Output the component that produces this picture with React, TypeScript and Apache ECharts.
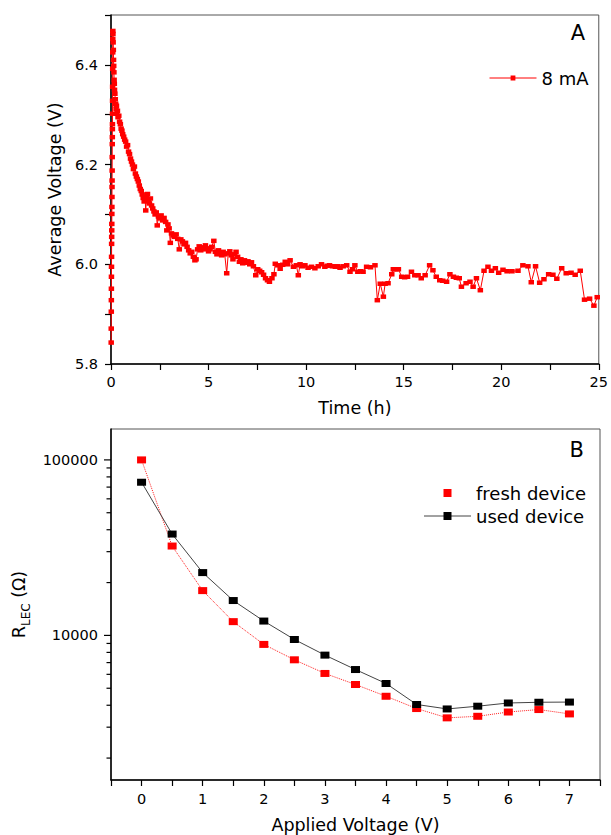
import React, { useEffect, useRef } from "react";
import * as echarts from "echarts";

// ---------- Panel A: average voltage vs time (8 mA) ----------
const voltageTrace: [number, number][] = [
  [0.010, 5.843], [0.012, 5.871], [0.015, 5.905], [0.018, 5.928], [0.020, 5.951], [0.023, 5.975],
  [0.026, 5.995], [0.029, 6.015], [0.032, 6.041], [0.035, 6.055], [0.038, 6.068], [0.041, 6.081],
  [0.044, 6.101], [0.047, 6.115], [0.050, 6.135], [0.053, 6.155], [0.056, 6.168], [0.059, 6.188],
  [0.062, 6.215], [0.065, 6.241], [0.068, 6.255], [0.071, 6.271], [0.074, 6.281], [0.077, 6.302],
  [0.080, 6.328], [0.083, 6.356], [0.086, 6.392], [0.089, 6.425], [0.092, 6.452], [0.095, 6.468],
  [0.10, 6.462], [0.11, 6.445], [0.12, 6.43], [0.13, 6.41], [0.14, 6.398], [0.15, 6.385],
  [0.16, 6.37], [0.17, 6.362], [0.18, 6.35], [0.20, 6.342], [0.22, 6.331], [0.24, 6.322],
  [0.26, 6.312], [0.28, 6.318], [0.30, 6.302], [0.33, 6.308], [0.36, 6.295], [0.40, 6.298],
  [0.44, 6.286], [0.48, 6.281], [0.52, 6.272], [0.56, 6.268], [0.60, 6.261], [0.65, 6.256],
  [0.70, 6.25], [0.75, 6.246], [0.80, 6.236], [0.85, 6.239], [0.90, 6.226], [0.95, 6.221],
  [1.00, 6.212], [1.05, 6.206], [1.10, 6.2], [1.15, 6.191], [1.20, 6.196], [1.25, 6.182],
  [1.30, 6.176], [1.35, 6.171], [1.40, 6.166], [1.45, 6.158], [1.50, 6.151], [1.55, 6.147],
  [1.60, 6.14], [1.65, 6.133], [1.70, 6.126], [1.75, 6.131], [1.78, 6.108], [1.82, 6.135],
  [1.87, 6.141], [1.92, 6.128], [1.97, 6.122], [2.02, 6.132], [2.08, 6.118], [2.14, 6.112],
  [2.20, 6.106], [2.26, 6.1], [2.32, 6.104], [2.37, 6.078], [2.43, 6.096], [2.50, 6.092],
  [2.57, 6.098], [2.64, 6.088], [2.72, 6.093], [2.80, 6.085], [2.86, 6.068], [2.92, 6.08],
  [2.98, 6.072], [3.04, 6.043], [3.10, 6.062], [3.18, 6.058], [3.26, 6.055], [3.34, 6.06],
  [3.42, 6.051], [3.50, 6.03], [3.58, 6.05], [3.66, 6.046], [3.74, 6.04], [3.82, 6.043],
  [3.90, 6.035], [3.98, 6.028], [4.06, 6.022], [4.14, 6.025], [4.22, 6.015], [4.30, 6.008],
  [4.36, 6.01], [4.44, 6.03], [4.52, 6.036], [4.60, 6.028], [4.68, 6.034], [4.76, 6.03],
  [4.84, 6.038], [4.92, 6.032], [5.00, 6.026], [5.08, 6.03], [5.16, 6.035], [5.27, 6.047],
  [5.35, 6.025], [5.43, 6.02], [5.51, 6.028], [5.59, 6.022], [5.67, 6.018], [5.75, 6.025],
  [5.83, 6.02], [5.93, 5.982], [6.01, 6.022], [6.09, 6.026], [6.17, 6.018], [6.25, 6.01],
  [6.33, 6.02], [6.41, 6.025], [6.49, 6.015], [6.58, 6.005], [6.66, 6.01], [6.75, 6.002],
  [6.84, 6.008], [6.93, 6.003], [7.02, 6.006], [7.11, 6.0], [7.20, 6.004], [7.30, 5.996],
  [7.42, 5.978], [7.52, 5.99], [7.62, 5.987], [7.72, 5.984], [7.82, 5.979], [7.92, 5.972],
  [8.02, 5.968], [8.12, 5.965], [8.25, 5.972], [8.35, 5.98], [8.42, 6.001], [8.55, 5.998],
  [8.67, 5.991], [8.80, 5.999], [8.93, 6.005], [9.05, 6.0], [9.18, 6.008], [9.35, 5.995],
  [9.50, 5.998], [9.60, 5.978], [9.69, 6.0], [9.82, 5.996], [9.94, 5.998], [10.1, 5.993],
  [10.28, 5.995], [10.45, 5.992], [10.62, 5.996], [10.79, 6.0], [10.96, 5.995], [11.08, 5.997],
  [11.2, 5.998], [11.35, 5.996], [11.5, 5.995], [11.62, 5.996], [11.74, 5.993], [11.9, 5.996],
  [12.08, 5.998], [12.25, 5.985], [12.38, 5.99], [12.5, 5.998], [12.65, 5.985], [12.8, 5.986],
  [12.92, 5.985], [13.1, 5.995], [13.3, 5.994], [13.53, 5.998], [13.65, 5.928], [13.8, 5.961],
  [13.96, 5.935], [14.05, 5.961], [14.2, 5.962], [14.39, 5.98], [14.47, 5.99], [14.6, 5.99],
  [14.73, 5.99], [14.9, 5.975], [15.05, 5.974], [15.2, 5.975], [15.4, 5.985], [15.57, 5.978],
  [15.74, 5.978], [15.9, 5.972], [16.1, 5.978], [16.33, 5.998], [16.5, 5.988], [16.67, 5.975],
  [16.85, 5.968], [17.0, 5.967], [17.2, 5.965], [17.37, 5.98], [17.55, 5.975], [17.7, 5.973],
  [17.85, 5.972], [17.96, 5.955], [18.2, 5.962], [18.4, 5.965], [18.56, 5.955], [18.73, 5.972],
  [18.93, 5.948], [19.12, 5.987], [19.32, 5.995], [19.5, 5.987], [19.7, 5.992], [19.87, 5.983],
  [20.09, 5.989], [20.3, 5.986], [20.55, 5.986], [20.86, 5.987], [21.11, 5.998], [21.37, 5.996],
  [21.54, 5.964], [21.76, 5.996], [21.97, 5.963], [22.19, 5.97], [22.43, 5.98], [22.65, 5.979],
  [22.85, 5.971], [23.1, 5.992], [23.33, 5.982], [23.58, 5.983], [23.79, 5.979], [24.05, 5.987],
  [24.27, 5.929], [24.53, 5.931], [24.75, 5.917], [24.92, 5.934],
];

// ---------- Panel B: R_LEC vs applied voltage ----------
const appliedVoltage = [0, 0.5, 1, 1.5, 2, 2.5, 3, 3.5, 4, 4.5, 5, 5.5, 6, 6.5, 7];
const freshDeviceR = [100000, 32300, 18000, 11980, 8885, 7260, 6070, 5250, 4500, 3830, 3390, 3460, 3660, 3780, 3570];
const usedDeviceR = [74600, 37800, 22800, 15800, 12070, 9480, 7720, 6390, 5320, 4040, 3810, 3950, 4120, 4160, 4170];

// log-axis tick values (decade majors and minors)
const logMajorTicks = [10000, 100000];
const logMinorTicks = [2000, 3000, 4000, 5000, 6000, 7000, 8000, 9000, 20000, 30000, 40000, 50000, 60000, 70000, 80000, 90000];

const FONT = "DejaVu Sans";
const BLACK = "#000";

export default function App() {
  const ref = useRef<HTMLDivElement>(null);

  useEffect(() => {
    document.body.style.margin = "0";
    const chart = echarts.init(ref.current!, null, { renderer: "svg" });

    const tickRender = (len: number) => (_params: any, api: any) => {
      const p = api.coord([api.value(0), api.value(1)]);
      return {
        type: "line",
        shape: { x1: p[0] - len, y1: p[1], x2: p[0], y2: p[1] },
        style: { stroke: BLACK, lineWidth: 1.2 },
      };
    };

    const axisLine = { onZero: false, lineStyle: { color: BLACK, width: 1.5 } };
    const axisTick = { length: 6, lineStyle: { color: BLACK, width: 1.2 } };
    const labelStyle = { color: BLACK, fontFamily: FONT, fontSize: 14.5 };
    const nameStyle = { color: BLACK, fontFamily: FONT, fontSize: 17.5 };

    chart.setOption({
      animation: false,
      backgroundColor: "#fff",
      title: [
        { text: "A", right: 26, top: 22, padding: 0, textStyle: { fontFamily: FONT, fontSize: 21, fontWeight: "normal", color: BLACK, lineHeight: 22 } },
        { text: "B", right: 27, top: 439, padding: 0, textStyle: { fontFamily: FONT, fontSize: 21, fontWeight: "normal", color: BLACK, lineHeight: 22 } },
      ],
      legend: [
        {
          data: ["8 mA"],
          left: 489,
          top: 69,
          padding: 0,
          itemWidth: 47,
          itemHeight: 6,
          lineStyle: { width: 1 },
          textStyle: { fontFamily: FONT, fontSize: 18, color: BLACK, lineHeight: 18 },
        },
        {
          data: [
            { name: "fresh device", lineStyle: { opacity: 0 } },
            { name: "used device", lineStyle: { width: 1 } },
          ],
          orient: "vertical",
          left: 423,
          top: 484,
          padding: 0,
          itemGap: 5,
          itemWidth: 47,
          itemHeight: 10,
          textStyle: { fontFamily: FONT, fontSize: 18, color: BLACK, lineHeight: 18 },
        },
      ],
      grid: [
        { left: 111, top: 15, width: 489, height: 349, show: true, borderColor: "#555", borderWidth: 1 },
        { left: 111, top: 429, width: 489, height: 351, show: true, borderColor: "#555", borderWidth: 1 },
      ],
      xAxis: [
        {
          type: "value",
          gridIndex: 0,
          min: 0,
          max: 25,
          interval: 2.5,
          axisLine,
          axisTick,
          splitLine: { show: false },
          axisLabel: { ...labelStyle, margin: 10, formatter: (v: number) => (v % 5 === 0 ? String(v) : "") },
          name: "Time (h)",
          nameLocation: "middle",
          nameGap: 35,
          nameTextStyle: nameStyle,
        },
        {
          type: "value",
          gridIndex: 1,
          min: -0.5,
          max: 7.5,
          interval: 0.5,
          axisLine,
          axisTick,
          splitLine: { show: false },
          axisLabel: { ...labelStyle, margin: 11, formatter: (v: number) => (Number.isInteger(v) ? String(v) : "") },
          name: "Applied Voltage (V)",
          nameLocation: "middle",
          nameGap: 36,
          nameTextStyle: nameStyle,
        },
      ],
      yAxis: [
        {
          type: "value",
          gridIndex: 0,
          min: 5.8,
          max: 6.5,
          interval: 0.1,
          axisLine,
          axisTick,
          splitLine: { show: false },
          axisLabel: {
            ...labelStyle,
            margin: 13,
            formatter: (v: number) => {
              const k = Math.round(v * 10);
              return k % 2 === 0 ? (k / 10).toFixed(1) : "";
            },
          },
          name: "Average Voltage (V)",
          nameLocation: "middle",
          nameGap: 38,
          nameTextStyle: nameStyle,
        },
        {
          type: "log",
          logBase: 10,
          gridIndex: 1,
          min: 1500,
          max: 150000,
          axisLine,
          axisTick: { show: false },
          splitLine: { show: false },
          minorTick: { show: false },
          axisLabel: {
            ...labelStyle,
            margin: 13,
            formatter: (v: number) => {
              const l = Math.log10(v);
              return Math.abs(l - Math.round(l)) < 1e-6 ? String(Math.round(v)) : "";
            },
          },
          name: "{r|R}{s|LEC}{r| (Ω)}",
          nameLocation: "middle",
          nameGap: 62,
          nameTextStyle: {
            ...nameStyle,
            rich: {
              r: { fontFamily: FONT, fontSize: 17.5, color: BLACK, lineHeight: 26, verticalAlign: "middle" },
              s: { fontFamily: FONT, fontSize: 12, color: BLACK, lineHeight: 12, verticalAlign: "bottom" },
            },
          },
        },
      ],
      series: [
        {
          name: "8 mA",
          type: "line",
          xAxisIndex: 0,
          yAxisIndex: 0,
          data: voltageTrace,
          color: "#ff0000",
          symbol: "rect",
          symbolSize: [5.5, 4.5],
          lineStyle: { width: 1, color: "#ff0000" },
          itemStyle: { color: "#ff0000" },
        },
        {
          name: "fresh device",
          type: "line",
          xAxisIndex: 1,
          yAxisIndex: 1,
          data: appliedVoltage.map((x, i) => [x, freshDeviceR[i]]),
          color: "#ff0000",
          symbol: "rect",
          symbolSize: [9, 7],
          lineStyle: { width: 1, color: "#ff2020", type: "dotted" },
          itemStyle: { color: "#ff0000" },
        },
        {
          name: "used device",
          type: "line",
          xAxisIndex: 1,
          yAxisIndex: 1,
          data: appliedVoltage.map((x, i) => [x, usedDeviceR[i]]),
          color: "#000",
          symbol: "rect",
          symbolSize: [9, 7],
          lineStyle: { width: 1, color: "#444" },
          itemStyle: { color: "#000" },
        },
        {
          name: "majorTicksB",
          type: "custom",
          xAxisIndex: 1,
          yAxisIndex: 1,
          silent: true,
          data: logMajorTicks.map((v) => [-0.5, v]),
          renderItem: tickRender(7),
        },
        {
          name: "minorTicksB",
          type: "custom",
          xAxisIndex: 1,
          yAxisIndex: 1,
          silent: true,
          data: logMinorTicks.map((v) => [-0.5, v]),
          renderItem: tickRender(4.5),
        },
      ],
    });

    return () => chart.dispose();
  }, []);

  return <div ref={ref} style={{ width: 611, height: 835 }} />;
}
